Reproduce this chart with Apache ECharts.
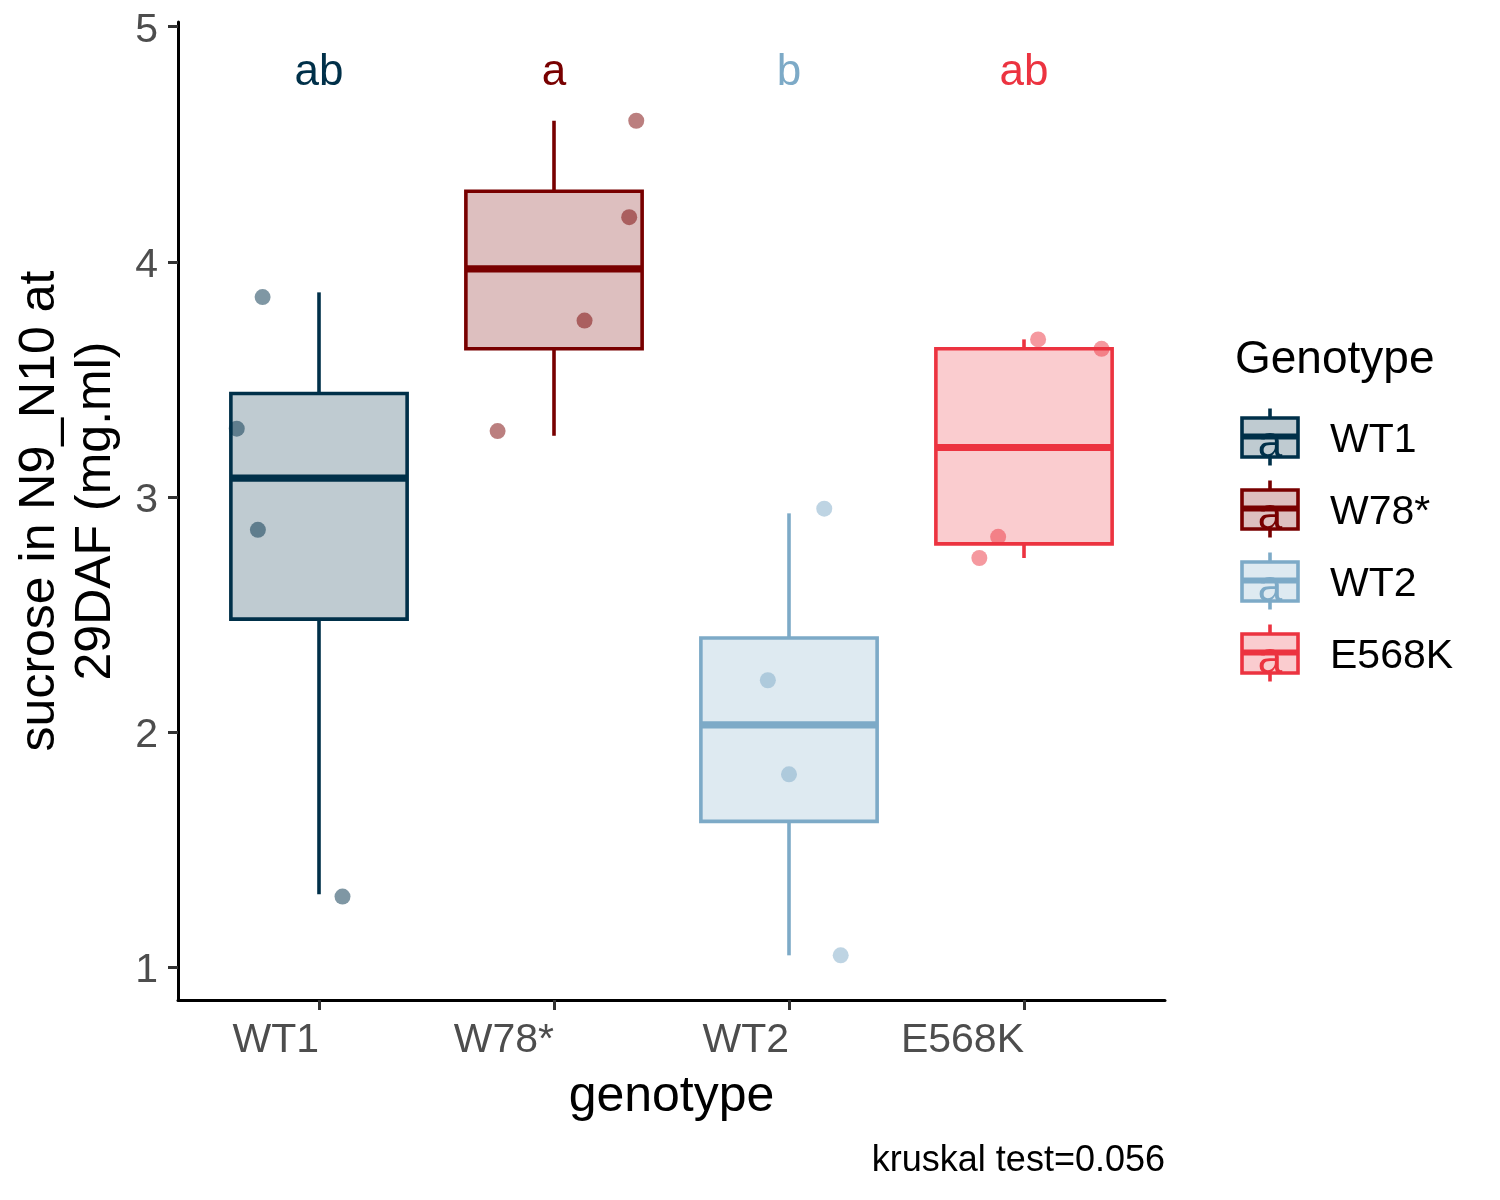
<!DOCTYPE html>
<html>
<head>
<meta charset="utf-8">
<script src="https://cdn.jsdelivr.net/npm/echarts@6/dist/echarts.min.js"></script>
<style>
  html, body { margin: 0; padding: 0; background: #fff; }
  #chart { width: 1500px; height: 1200px; }
</style>
</head>
<body>
<div id="chart"></div>
<script>
// 分组与颜色
const genotypes = ['WT1', 'W78*', 'WT2', 'E568K'];
const colors = ['#003049', '#780000', '#7DAAC7', '#EC3340'];
const letters = ['ab', 'a', 'b', 'ab'];

// 箱线图统计量
const boxLow = [1.31, 3.26, 1.05, 2.74];
const boxQ1 = [2.48, 3.63, 1.62, 2.80];
const boxMed = [3.08, 3.97, 2.03, 3.21];
const boxQ3 = [3.44, 4.30, 2.40, 3.63];
const boxHigh = [3.87, 4.60, 2.93, 3.67];

// 抖动后的散点 [x, y]
const ptsWT1 = [[0.76, 3.85], [0.65, 3.29], [0.74, 2.86], [1.10, 1.30]];
const ptsW78 = [[2.35, 4.60], [2.32, 4.19], [2.13, 3.75], [1.76, 3.28]];
const ptsWT2 = [[3.15, 2.95], [2.91, 2.22], [3.00, 1.82], [3.22, 1.05]];
const ptsE568K = [[4.06, 3.67], [4.33, 3.63], [3.89, 2.83], [3.81, 2.74]];

const letterY = 4.805;
const yTicks = [1, 2, 3, 4, 5];
const xTicks = [1, 2, 3, 4];

const allPts = [ptsWT1, ptsW78, ptsWT2, ptsE568K];
const FONT = '"Liberation Sans", Arial, sans-serif';

function fade(hex, a) {
  const r = parseInt(hex.slice(1, 3), 16);
  const g = parseInt(hex.slice(3, 5), 16);
  const b = parseInt(hex.slice(5, 7), 16);
  return 'rgba(' + r + ',' + g + ',' + b + ',' + a + ')';
}

const boxData = genotypes.map((g, i) => [i + 1, boxLow[i], boxQ1[i], boxMed[i], boxQ3[i], boxHigh[i]]);

function renderBox(params, api) {
  const i = params.dataIndex;
  const x = api.value(0);
  const c = colors[i];
  const left = api.coord([x - 0.375, 0])[0];
  const right = api.coord([x + 0.375, 0])[0];
  const cx = api.coord([x, 0])[0];
  const yLow = api.coord([x, api.value(1)])[1];
  const yQ1 = api.coord([x, api.value(2)])[1];
  const yMed = api.coord([x, api.value(3)])[1];
  const yQ3 = api.coord([x, api.value(4)])[1];
  const yHigh = api.coord([x, api.value(5)])[1];
  return {
    type: 'group',
    children: [
      { type: 'line', shape: { x1: cx, y1: yHigh, x2: cx, y2: yQ3 }, style: { stroke: c, lineWidth: 3.6 } },
      { type: 'line', shape: { x1: cx, y1: yQ1, x2: cx, y2: yLow }, style: { stroke: c, lineWidth: 3.6 } },
      { type: 'rect', shape: { x: left, y: yQ3, width: right - left, height: yQ1 - yQ3 },
        style: { fill: fade(c, 0.25), stroke: c, lineWidth: 3.6 } },
      { type: 'line', shape: { x1: left, y1: yMed, x2: right, y2: yMed }, style: { stroke: c, lineWidth: 7.2 } }
    ]
  };
}

function renderLetter(params, api) {
  const i = params.dataIndex;
  const p = api.coord([api.value(0), api.value(1)]);
  return {
    type: 'text',
    x: p[0], y: p[1],
    style: {
      text: letters[i], fill: colors[i],
      font: '44px ' + FONT,
      align: 'center', verticalAlign: 'middle'
    }
  };
}

// 图例（手工绘制，带 "a" 的箱形图例键）
const legendGraphics = [{
  type: 'text', left: 1235, top: 337,
  style: { text: 'Genotype', fill: '#000', font: '46px ' + FONT }
}];
genotypes.forEach((g, i) => {
  const cy = 437.5 + i * 72;
  const c = colors[i];
  legendGraphics.push(
    { type: 'line', shape: { x1: 1270, y1: cy - 29, x2: 1270, y2: cy - 19.5 }, style: { stroke: c, lineWidth: 3.6 } },
    { type: 'line', shape: { x1: 1270, y1: cy + 19.5, x2: 1270, y2: cy + 28 }, style: { stroke: c, lineWidth: 3.6 } },
    { type: 'rect', shape: { x: 1242, y: cy - 19.5, width: 56, height: 39 },
      style: { fill: fade(c, 0.25), stroke: c, lineWidth: 3.6 } },
    { type: 'line', shape: { x1: 1242, y1: cy - 1, x2: 1298, y2: cy - 1 }, style: { stroke: c, lineWidth: 6 } },
    { type: 'text', x: 1270, y: cy + 7,
      style: { text: 'a', fill: c, font: '44px ' + FONT, align: 'center', verticalAlign: 'middle' } },
    { type: 'text', x: 1330, y: cy + 3,
      style: { text: g, fill: '#000', font: '41px ' + FONT, align: 'left', verticalAlign: 'middle' } }
  );
});
legendGraphics.push({
  type: 'text', x: 1165, y: 1161,
  style: { text: 'kruskal test=0.056', fill: '#000', font: '36px ' + FONT, align: 'right', verticalAlign: 'middle' }
});

const chart = echarts.init(document.getElementById('chart'));

const option = {
  backgroundColor: '#fff',
  animation: false,
  grid: { left: 178, right: 335, top: 22, bottom: 200, outerBoundsMode: 'none' },
  xAxis: {
    type: 'value',
    min: 0.4,
    max: 4.6,
    splitLine: { show: false },
    axisLine: { show: true, lineStyle: { color: '#000', width: 3 } },
    axisTick: { show: true, customValues: xTicks, length: 10, lineStyle: { color: '#333', width: 3 } },
    axisLabel: {
      customValues: xTicks,
      formatter: v => genotypes[Math.round(v) - 1],
      align: 'right',
      margin: 20,
      color: '#4d4d4d',
      fontSize: 41,
      fontFamily: FONT
    },
    name: 'genotype',
    nameLocation: 'middle',
    nameGap: 72,
    nameTextStyle: { color: '#000', fontSize: 50, fontFamily: FONT }
  },
  yAxis: {
    type: 'value',
    min: 0.86,
    max: 5.02,
    splitLine: { show: false },
    axisLine: { show: true, lineStyle: { color: '#000', width: 3 } },
    axisTick: { show: true, customValues: yTicks, length: 10, lineStyle: { color: '#333', width: 3 } },
    axisLabel: {
      customValues: yTicks,
      margin: 20,
      formatter: v => '{t|' + v + '}',
      rich: {
        t: { padding: [7, 0, 0, 0], color: '#4d4d4d', fontSize: 41, fontFamily: FONT }
      },
      color: '#4d4d4d',
      fontSize: 41,
      fontFamily: FONT
    },
    name: 'sucrose in N9_N10 at\n29DAF (mg.ml)',
    nameLocation: 'middle',
    nameRotate: 90,
    nameGap: 48,
    nameTextStyle: { color: '#000', fontSize: 50, lineHeight: 56, align: 'center', fontFamily: FONT }
  },
  series: [
    {
      type: 'custom',
      name: 'box',
      renderItem: renderBox,
      encode: { x: 0, y: [1, 2, 3, 4, 5] },
      data: boxData,
      z: 2
    },
    ...allPts.map((pts, i) => ({
      type: 'scatter',
      name: genotypes[i],
      data: pts,
      symbolSize: 16,
      itemStyle: { color: colors[i], opacity: 0.5 },
      z: 3
    })),
    {
      type: 'custom',
      name: 'letters',
      renderItem: renderLetter,
      encode: { x: 0, y: 1 },
      data: xTicks.map(x => [x, letterY]),
      z: 4
    }
  ],
  graphic: legendGraphics
};

chart.setOption(option);
</script>
</body>
</html>
